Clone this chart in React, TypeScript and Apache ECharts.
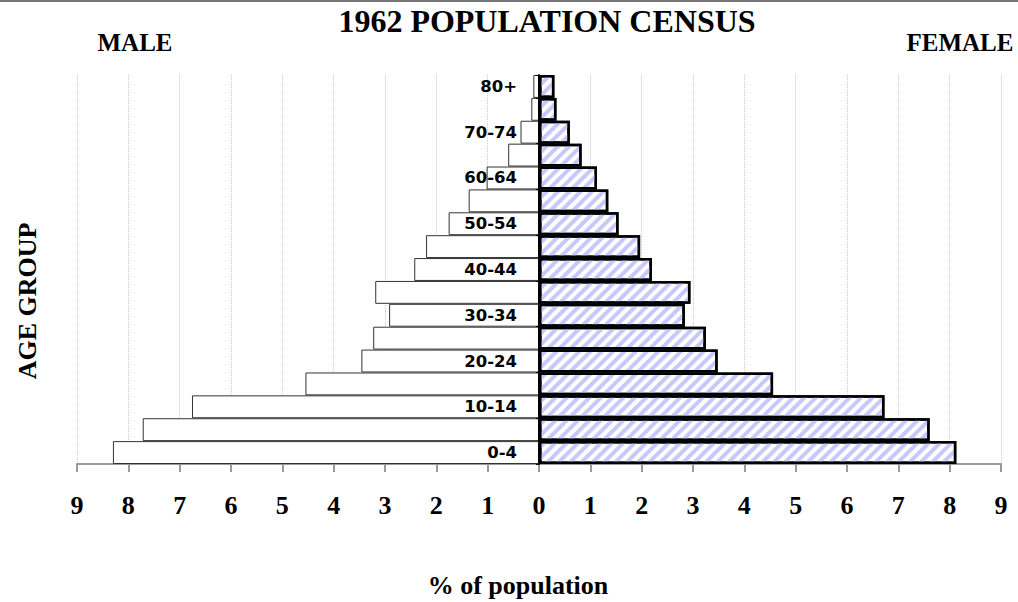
import React, { useEffect, useRef } from "react";
import * as echarts from "echarts";

const categories = ["0-4", "5-9", "10-14", "15-19", "20-24", "25-29", "30-34", "35-39", "40-44", "45-49", "50-54", "55-59", "60-64", "65-69", "70-74", "75-79", "80+"];
const maleValues = [8.3, 7.72, 6.76, 4.55, 3.46, 3.23, 2.92, 3.19, 2.43, 2.2, 1.76, 1.37, 1.02, 0.6, 0.36, 0.15, 0.11];
const femaleValues = [8.13, 7.61, 6.73, 4.56, 3.48, 3.25, 2.84, 2.95, 2.2, 1.97, 1.55, 1.35, 1.13, 0.83, 0.6, 0.34, 0.3];
const xMin = -9;
const xMax = 9;

const serif = "'Liberation Serif', 'DejaVu Serif', serif";

export default function App() {
  const ref = useRef<HTMLDivElement>(null);
  useEffect(() => {
    if (!ref.current) return;
    const chart = echarts.init(ref.current, undefined, { renderer: "svg" });
    const gridLeft = 77;
    const gridRight = 17;
    const plotWidth = 1018 - gridLeft - gridRight;
    const zeroOffset = (plotWidth * (0 - xMin)) / (xMax - xMin);
    chart.setOption({
      animation: false,
      backgroundColor: "#ffffff",
      grid: { left: gridLeft, right: gridRight, top: 75, bottom: 138, containLabel: false },
      xAxis: {
        type: "value",
        min: xMin,
        max: xMax,
        interval: 1,
        axisLine: { show: true, onZero: false, lineStyle: { color: "#999999", width: 2 } },
        axisTick: { show: true, length: 8, lineStyle: { color: "#999999", width: 2 } },
        axisLabel: {
          formatter: (v: number) => String(Math.abs(v)),
          fontFamily: serif,
          fontWeight: "bold",
          fontSize: 26,
          color: "#000000",
          margin: 28,
        },
        splitLine: { show: true, lineStyle: { color: "#cccccc", type: "dotted", width: 1 } },
      },
      yAxis: {
        type: "category",
        data: categories,
        z: 10,
        position: "left",
        offset: -zeroOffset,
        axisLine: { show: true, onZero: false, lineStyle: { color: "#000000", width: 2 } },
        axisTick: { show: true, length: 3, lineStyle: { color: "#000000", width: 1 } },
        axisLabel: {
          interval: 1,
          fontFamily: "'DejaVu Sans', Verdana, sans-serif",
          fontWeight: "bold",
          fontSize: 16.5,
          color: "#000000",
          margin: 22,
        },
        splitLine: { show: false },
      },
      series: [
        {
          name: "Male",
          type: "bar",
          data: maleValues.map((v) => -v),
          barCategoryGap: "0%",
          barGap: "-100%",
          itemStyle: { color: "#ffffff", borderColor: "#333333", borderWidth: 1 },
          z: 2,
        },
        {
          name: "Female",
          type: "bar",
          data: femaleValues,
          barCategoryGap: "0%",
          barGap: "-100%",
          itemStyle: {
            color: "#ffffff",
            borderColor: "#000000",
            borderWidth: 2.5,
            decal: {
              symbol: "rect",
              symbolSize: 1,
              color: "#c8c8fc",
              dashArrayX: [1, 0],
              dashArrayY: [3.5, 3.5],
              rotation: -Math.PI / 4,
            },
          },
          z: 3,
        },
      ],
      graphic: [
        { type: "rect", shape: { x: 0, y: 0, width: 1018, height: 2 }, style: { fill: "#777777" } },
        {
          type: "text",
          style: { text: "1962 POPULATION CENSUS", x: 547, y: 21, font: `bold 32px ${serif}`, textAlign: "center", textVerticalAlign: "middle", fill: "#000" },
        },
        {
          type: "text",
          style: { text: "MALE", x: 135, y: 42, font: `bold 25px ${serif}`, textAlign: "center", textVerticalAlign: "middle", fill: "#000" },
        },
        {
          type: "text",
          style: { text: "FEMALE", x: 960, y: 42, font: `bold 25px ${serif}`, textAlign: "center", textVerticalAlign: "middle", fill: "#000" },
        },
        {
          type: "text",
          x: 27,
          y: 301,
          rotation: Math.PI / 2,
          style: { text: "AGE GROUP", x: 0, y: 0, font: `bold 26px ${serif}`, textAlign: "center", textVerticalAlign: "middle", fill: "#000" },
        },
        {
          type: "text",
          style: { text: "% of population", x: 518, y: 585, font: `bold 26px ${serif}`, textAlign: "center", textVerticalAlign: "middle", fill: "#000" },
        },
      ],
    });
    return () => chart.dispose();
  }, []);
  return (
    <div
      ref={ref}
      style={{ position: "fixed", left: 0, top: 0, width: 1018, height: 602 }}
    />
  );
}
